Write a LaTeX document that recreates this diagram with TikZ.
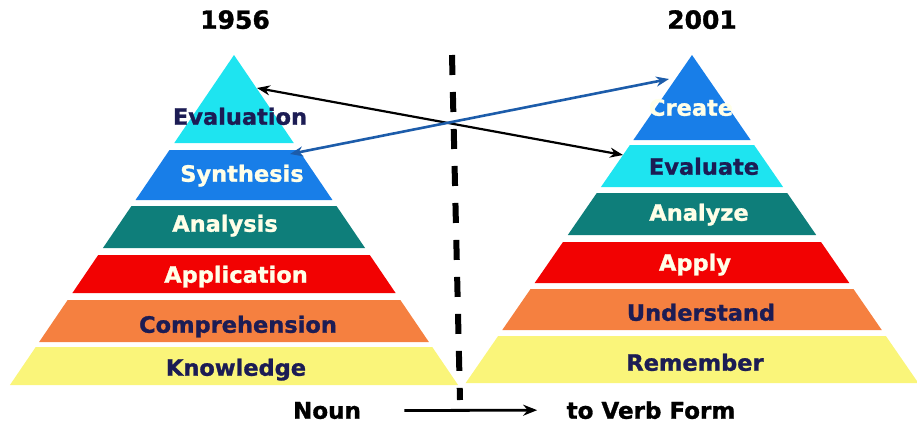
\documentclass[tikz,border=0pt]{standalone}
\usepackage{fontspec}
\setmainfont{DejaVu Sans}[BoldFeatures={FakeBold=1.2}]
\usetikzlibrary{arrows.meta}

\definecolor{lvlcyan}{RGB}{30,228,240}
\definecolor{lvlblue}{RGB}{24,126,232}
\definecolor{lvlteal}{RGB}{14,126,122}
\definecolor{lvlred}{RGB}{242,2,2}
\definecolor{lvlorange}{RGB}{245,128,64}
\definecolor{lvlyellow}{RGB}{250,245,122}
\definecolor{navytext}{RGB}{28,28,84}
\definecolor{creamtext}{RGB}{255,255,232}
\definecolor{linkblue}{RGB}{28,92,170}

\tikzset{
  darklabel/.style={text=navytext, anchor=mid, font=\bfseries\fontsize{22.5}{22.5}\selectfont},
  lightlabel/.style={text=creamtext, anchor=mid, font=\bfseries\fontsize{22.5}{22.5}\selectfont},
  yearlabel/.style={anchor=mid, font=\bfseries\fontsize{25}{25}\selectfont},
  formlabel/.style={anchor=mid, font=\bfseries\fontsize{23}{23}\selectfont},
  linkarrow/.style={line width=2.2pt, {Stealth[length=13pt,width=10pt]}-{Stealth[length=13pt,width=10pt]}}
}

\begin{document}
\begin{tikzpicture}[x=1pt,y=-1pt]
  \useasboundingbox (0,0) rectangle (917,437);

  % Draw left pyramid (1956)
  \foreach \t/\b/\c in {55/143/lvlcyan, 150/200/lvlblue, 206/248/lvlteal,
                        255/293/lvlred, 300/342/lvlorange, 347/385/lvlyellow} {
    \pgfmathsetmacro{\tl}{234-0.679*(\t-55)}
    \pgfmathsetmacro{\tr}{234+0.679*(\t-55)}
    \pgfmathsetmacro{\bl}{234-0.679*(\b-55)}
    \pgfmathsetmacro{\br}{234+0.679*(\b-55)}
    \fill[\c] (\tl,\t) -- (\tr,\t) -- (\br,\b) -- (\bl,\b) -- cycle; % Band
  }

  % Draw right pyramid (2001)
  \foreach \t/\b/\c in {55/140/lvlblue, 145/187/lvlcyan, 193/235/lvlteal,
                        242/283/lvlred, 289/330/lvlorange, 336/383/lvlyellow} {
    \pgfmathsetmacro{\tl}{692-0.69*(\t-55)}
    \pgfmathsetmacro{\tr}{692+0.69*(\t-55)}
    \pgfmathsetmacro{\bl}{692-0.69*(\b-55)}
    \pgfmathsetmacro{\br}{692+0.69*(\b-55)}
    \fill[\c] (\tl,\t) -- (\tr,\t) -- (\br,\b) -- (\bl,\b) -- cycle; % Band
  }

  % Label years
  \node[yearlabel] (oldyear) at (235,26) {1956};
  \node[yearlabel] (newyear) at (702,26) {2001};

  % Label left levels
  \node[darklabel]  (evaluation)    at (240,122) {Evaluation};
  \node[lightlabel] (synthesis)     at (242,179) {Synthesis};
  \node[lightlabel] (analysis)      at (225,229) {Analysis};
  \node[lightlabel] (application)   at (236,280) {Application};
  \node[darklabel]  (comprehension) at (238,330) {Comprehension};
  \node[darklabel]  (knowledge)     at (236,373) {Knowledge};

  % Label right levels
  \node[lightlabel] (create)     at (691,113) {Create};
  \node[darklabel]  (evaluate)   at (704,172) {Evaluate};
  \node[lightlabel] (analyze)    at (699,218) {Analyze};
  \node[lightlabel] (apply)      at (695,268) {Apply};
  \node[darklabel]  (understand) at (701,318) {Understand};
  \node[darklabel]  (remember)   at (695,368) {Remember};

  % Draw dividing line
  \coordinate (divtop) at (452,55);
  \coordinate (divbottom) at (460,400);
  \draw[line width=6pt, dash pattern=on 20pt off 17pt] (divtop) -- (divbottom);

  % Draw links between old and new levels
  \coordinate (oldeval) at (257,88);
  \coordinate (neweval) at (623,155);
  \coordinate (oldsynth) at (290,154);
  \coordinate (newcreate) at (669,79);
  \draw[linkarrow, black] (oldeval) -- (neweval);
  \draw[linkarrow, linkblue, line width=2.6pt] (oldsynth) -- (newcreate);

  % Noun to verb
  \node[formlabel] (noun) at (327,416) {Noun};
  \node[formlabel] (verb) at (651,416) {to Verb Form};
  \draw[line width=2.8pt, -{Stealth[length=14pt,width=11pt]}]
    ([xshift=40pt]noun.east) -- ([xshift=-26pt]verb.west);

\end{tikzpicture}
\end{document}
